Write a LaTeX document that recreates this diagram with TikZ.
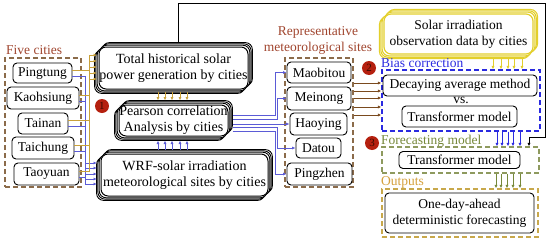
\documentclass[tikz,border=0pt]{standalone}
\usepackage{fontspec}
\setmainfont{Liberation Serif}
\usetikzlibrary{arrows.meta,calc,backgrounds}
\definecolor{lblbrown}{HTML}{A0452E}
\definecolor{grpbrown}{HTML}{8B6B4A}
\definecolor{goldc}{HTML}{C9A13B}
\definecolor{bluec}{HTML}{5B5BD6}
\definecolor{biasblue}{HTML}{2A2AE0}
\definecolor{greenlbl}{HTML}{76883A}
\definecolor{greengrp}{HTML}{8E9A5E}
\definecolor{outlbl}{HTML}{D4A03C}
\definecolor{outgrp}{HTML}{C8A84B}
\definecolor{brarrc}{HTML}{7A4A1E}
\definecolor{yellowc}{HTML}{E3CF2B}
\definecolor{circred}{HTML}{B5200F}
\definecolor{circtext}{HTML}{3A0A00}
\newcommand\mystack[4]{%
  \begin{scope}[on background layer]
    \foreach \k in {3,-3,2,-2,1,-1}{
      \draw[draw=#2, fill=white, line width=#4, rounded corners=7pt]
        ($(#1.south west)+(\k*#3,-\k*#3)$) rectangle ($(#1.north east)+(\k*#3,-\k*#3)$);
    }
  \end{scope}}
\tikzset{
  every node/.style={font=\fontsize{13.5}{16}\selectfont, inner sep=0pt},
  city/.style={draw=black, line width=0.9pt, rounded corners=4pt, fill=white, align=center},
  bigbox/.style={draw=black, line width=1pt, rounded corners=7pt, fill=white, align=center, font=\fontsize{14}{16}\selectfont},
  ybox/.style={draw=yellowc, line width=1.2pt, rounded corners=7pt, fill=white, align=center},
  grp/.style={line width=1.1pt, dash pattern=on 5pt off 3pt},
  tipc/.style={-{Latex[length=3.5pt,width=3pt]}},
  goldarr/.style={draw=goldc, line width=0.8pt, tipc},
  bluearr/.style={draw=bluec, line width=0.8pt, tipc},
  brarr/.style={draw=brarrc, line width=0.8pt, tipc},
  yarr/.style={draw=yellowc, line width=0.8pt, tipc},
  bbarr/.style={draw=biasblue, line width=0.8pt, tipc},
  garr/.style={draw=greenlbl, line width=0.8pt, tipc},
  karr/.style={draw=black, line width=0.8pt, tipc},
  badge/.style={circle, fill=circred, minimum size=14pt, inner sep=0pt, text=circtext, font=\fontsize{11}{11}\selectfont}
}
\begin{document}
\begin{tikzpicture}[x=1pt,y=-1pt]
\useasboundingbox (0,0) rectangle (550,244);

% ---------- Five cities ----------
\node[anchor=base west, text=lblbrown] (lfive) at (6,54) {Five cities};
\node[draw=grpbrown, grp, minimum width=76pt, minimum height=129pt] (g5) at (43,122.5) {};
\node[city, minimum width=59pt, minimum height=20pt] (pt) at (42.5,73) {Pingtung};
\node[city, minimum width=72pt, minimum height=22pt] (ks) at (43,98) {Kaohsiung};
\node[city, minimum width=50pt, minimum height=21pt] (tn) at (43,123.5) {Tainan};
\node[city, minimum width=62pt, minimum height=22pt] (tc) at (43,148) {Taichung};
\node[city, minimum width=65pt, minimum height=22pt] (ty) at (46.5,174) {Taoyuan};

% ---------- central boxes ----------
\node[bigbox, minimum width=149pt, minimum height=42pt] (tot) at (173.5,68)
  {Total historical solar\\power generation by cities};
\mystack{tot}{black}{1.3}{0.9pt}
\node[bigbox, minimum width=109pt, minimum height=31pt] (pea) at (173.5,120.5)
  {Pearson correlation\\Analysis by cities};
\mystack{pea}{black}{1.3}{0.9pt}
\node[bigbox, minimum width=167pt, minimum height=42pt] (wrf) at (184.5,175)
  {WRF-solar irradiation\\meteorological sites by cities};
\mystack{wrf}{black}{1.3}{0.9pt}

% ---------- sites ----------
\node[text=lblbrown, align=center, font=\fontsize{13.5}{16}\selectfont] (lsites) at (318,40)
  {Representative\\meteorological sites};
\node[draw=grpbrown, grp, minimum width=68pt, minimum height=129pt] (sg) at (319,122.5) {};
\node[city, minimum width=64pt, minimum height=21pt] (mb) at (319,72.5) {Maobitou};
\node[city, minimum width=64pt, minimum height=23pt] (mn) at (319,98.5) {Meinong};
\node[city, minimum width=57pt, minimum height=22pt] (hy) at (318.5,124) {Haoying};
\node[city, minimum width=45pt, minimum height=20pt] (dt) at (318.5,148) {Datou};
\node[city, minimum width=65pt, minimum height=22pt] (pz) at (319.5,174) {Pingzhen};

% ---------- right column ----------
\node[ybox, minimum width=149pt, minimum height=40pt] (sol) at (458.5,34)
  {Solar irradiation\\observation data by cities};
\mystack{sol}{yellowc}{1.3}{1.1pt}

\node[anchor=base west, text=biasblue] (lbias) at (381,67) {Bias correction};
\node[draw=biasblue, grp, minimum width=158pt, minimum height=61pt] (bias) at (461,100.5) {};
\node[city, minimum width=154pt, minimum height=21pt] (dec) at (460,85.5) {Decaying average method};
\node (vs) at (461,100.5) {vs.};
\node[city, minimum width=115pt, minimum height=21pt] (tr1) at (459.5,116.5) {Transformer model};

\node[anchor=base west, text=greenlbl] (lfc) at (381,144) {Forecasting model};
\node[draw=greengrp, grp, minimum width=157pt, minimum height=26pt] (fcm) at (460.5,160) {};
\node[city, minimum width=121pt, minimum height=17pt] (tr2) at (459.5,160) {Transformer model};

\node[anchor=base west, text=outlbl] (lout) at (381,185) {Outputs};
\node[draw=outgrp, grp, minimum width=156pt, minimum height=48pt] (outg) at (460,213) {};
\node[city, minimum width=149pt, minimum height=40pt] (one) at (459.5,213)
  {One-day-ahead\\deterministic forecasting};

% ---------- connectors: cities -> total / wrf ----------
\coordinate (gt1) at (97,55);  \coordinate (gt2) at (97,61);  \coordinate (gt3) at (97,67);
\coordinate (gt4) at (97,73);  \coordinate (gt5) at (97,79);
\coordinate (bt1) at (97,163); \coordinate (bt2) at (97,168); \coordinate (bt3) at (97,174);
\coordinate (bt4) at (97,179); \coordinate (bt5) at (97,184);
\foreach \n/\i in {pt/1,ks/2,tn/3,tc/4,ty/5}{
  \draw[goldarr] ($(\n.east)+(0,-3)$) -| ($(gt\i)+(-8,0)$) -- (gt\i);
  \draw[bluearr] ($(\n.east)+(0,3)$) -| ($(bt\i)+(-12,0)$) -- (bt\i);
}

% total -> pearson, wrf -> pearson
\foreach \x in {158,165,172,180,187}{
  \draw[goldarr] ($(tot.south)+({\x-173.5},2)$) -- ($(pea.north)+({\x-173.5},-4)$);
  \draw[bluearr] ($(wrf.north)+({\x-184.5},-4)$) -- ($(pea.south)+({\x-173.5},4)$);
}

% pearson -> sites
\draw[bluearr] ($(pea.east)+(4,-5)$) -| ($(mb.west)+(-11,0)$) -- (mb.west);
\draw[bluearr] ($(pea.east)+(4,-1)$) -| ($(mn.west)+(-9,0)$) -- (mn.west);
\draw[bluearr] ($(pea.east)+(4,3.5)$) -- (hy.west);
\draw[bluearr] ($(pea.east)+(4,7)$) -| ($(dt.west)+(-18,0)$) -- (dt.west);
\draw[bluearr] ($(pea.east)+(4,11)$) -| ($(pz.west)+(-11,0)$) -- (pz.west);

% sites -> bias correction
\foreach \y in {83,91,98,107,115}{
  \draw[brarr] ($(sg.east)+(0,{\y-122.5})$) -- ($(bias.west)+(0,{\y-100.5})$);
}
% solar -> bias
\foreach \x in {493,501,508,514,522}{
  \draw[yarr] ($(sol.south)+({\x-458.5},4)$) -- ($(bias.north)+({\x-461},0)$);
}
% bias -> forecasting
\foreach \x in {497,502,508,513,520}{
  \draw[bbarr] ($(bias.south)+({\x-461},0)$) -- ($(fcm.north)+({\x-460.5},0)$);
}
% forecasting -> outputs
\foreach \x in {496,501,507,513,520}{
  \draw[garr] ($(fcm.south)+({\x-460.5},0)$) -- ($(outg.north)+({\x-460},0)$);
}
% black feedback line
\coordinate (k1) at (178.5,3);
\coordinate (k2) at (545,3);
\coordinate (k3) at (545,137);
\coordinate (k4) at (529,137);
\draw[karr] ($(tot.north)+(5,-4)$) -- (k1) -- (k2) -- (k3) -- (k4) -- ($(fcm.north)+(68.5,0)$);

% badges
\node[badge] (c1) at (102,106) {1};
\node[badge] (c2) at (369,68) {2};
\node[badge] (c3) at (372,143) {3};
\end{tikzpicture}
\end{document}
